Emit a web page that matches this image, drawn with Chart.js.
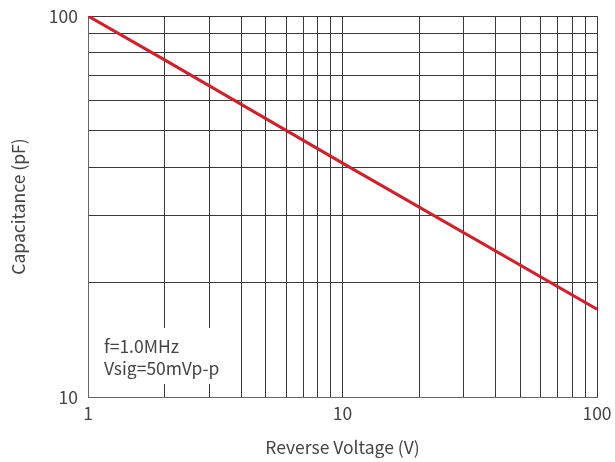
<!DOCTYPE html>
<html>
<head>
<meta charset="utf-8">
<script src="https://cdn.jsdelivr.net/npm/chart.js@4"></script>
<style>
  body { margin: 0; background: #fff; }
  #wrap { width: 615px; height: 462px; }
</style>
</head>
<body>
<div id="wrap"><canvas id="capchart"></canvas></div>
<script>
// values
const voltage = [1, 2, 10, 100];
const capacitance = [100, 76.7, 41.1, 17.0];

const xGrid = [1, 2, 3, 4, 5, 6, 7, 8, 9, 10, 20, 30, 40, 50, 60, 70, 80, 90, 100];
const yGrid = [10, 20, 30, 40, 50, 60, 70, 80, 90, 100];
const majorTicks = [1, 10, 100];
const noteLines = ["f=1.0MHz", "Vsig=50mVp-p"];

const textColor = "#444";
const font = { family: "'Noto Sans CJK SC', 'Noto Sans', sans-serif", size: 17.5, weight: 400 };

const notePlugin = {
  id: "note",
  afterDatasetsDraw(chart) {
    const c = chart.ctx;
    const x = chart.scales.x.getPixelForValue(1) + 16;
    const y = chart.scales.y.getPixelForValue(10);
    c.save();
    c.fillStyle = "#fff";
    c.fillRect(x - 4, y - 69, 126, 56);
    c.fillStyle = textColor;
    c.font = "400 17.5px " + font.family;
    c.textBaseline = "alphabetic";
    c.fillText(noteLines[0], x, y - 44);
    c.fillText(noteLines[1], x, y - 22);
    c.restore();
  }
};

const ctx = document.getElementById("capchart");

new Chart(ctx, {
  type: "line",
  data: {
    datasets: [
      {
        label: "Capacitance",
        data: voltage.map((v, i) => ({ x: v, y: capacitance[i] })),
        borderColor: "#d0202a",
        borderWidth: 3,
        pointRadius: 0,
        tension: 0,
      },
    ],
  },
  options: {
    responsive: true,
    maintainAspectRatio: false,
    animation: false,
    layout: { padding: { top: 16, right: 18, left: 0, bottom: 0 } },
    plugins: { legend: { display: false }, tooltip: { enabled: false } },
    scales: {
      x: {
        type: "logarithmic",
        min: 1,
        max: 100,
        afterBuildTicks: (s) => { s.ticks = xGrid.map((v) => ({ value: v })); },
        afterFit: (s) => { s.height = 65; s.paddingLeft = 0; s.paddingRight = 0; },
        ticks: {
          autoSkip: false,
          maxRotation: 0,
          padding: 6,
          color: textColor,
          font: font,
          callback: (v) => (majorTicks.includes(v) ? String(v) : ""),
        },
        grid: { color: "#3a3a3a", lineWidth: 1, drawTicks: false },
        border: { color: "#666", width: 1 },
        title: { display: true, text: "Reverse Voltage (V)", color: textColor, font: font, padding: { top: 0, bottom: 4 } },
      },
      y: {
        type: "logarithmic",
        min: 10,
        max: 100,
        afterBuildTicks: (s) => { s.ticks = yGrid.map((v) => ({ value: v })); },
        afterFit: (s) => { s.width = 88; s.paddingTop = 0; s.paddingBottom = 0; },
        ticks: {
          autoSkip: false,
          padding: 10,
          color: textColor,
          font: font,
          callback: (v) => (v === 10 || v === 100 ? String(v) : ""),
        },
        grid: { color: "#3a3a3a", lineWidth: 1, drawTicks: false },
        border: { color: "#666", width: 1 },
        title: { display: true, text: "Capacitance (pF)", color: textColor, font: font, padding: { top: 8, bottom: 0 } },
      },
    },
  },
  plugins: [notePlugin],
});
</script>
</body>
</html>
